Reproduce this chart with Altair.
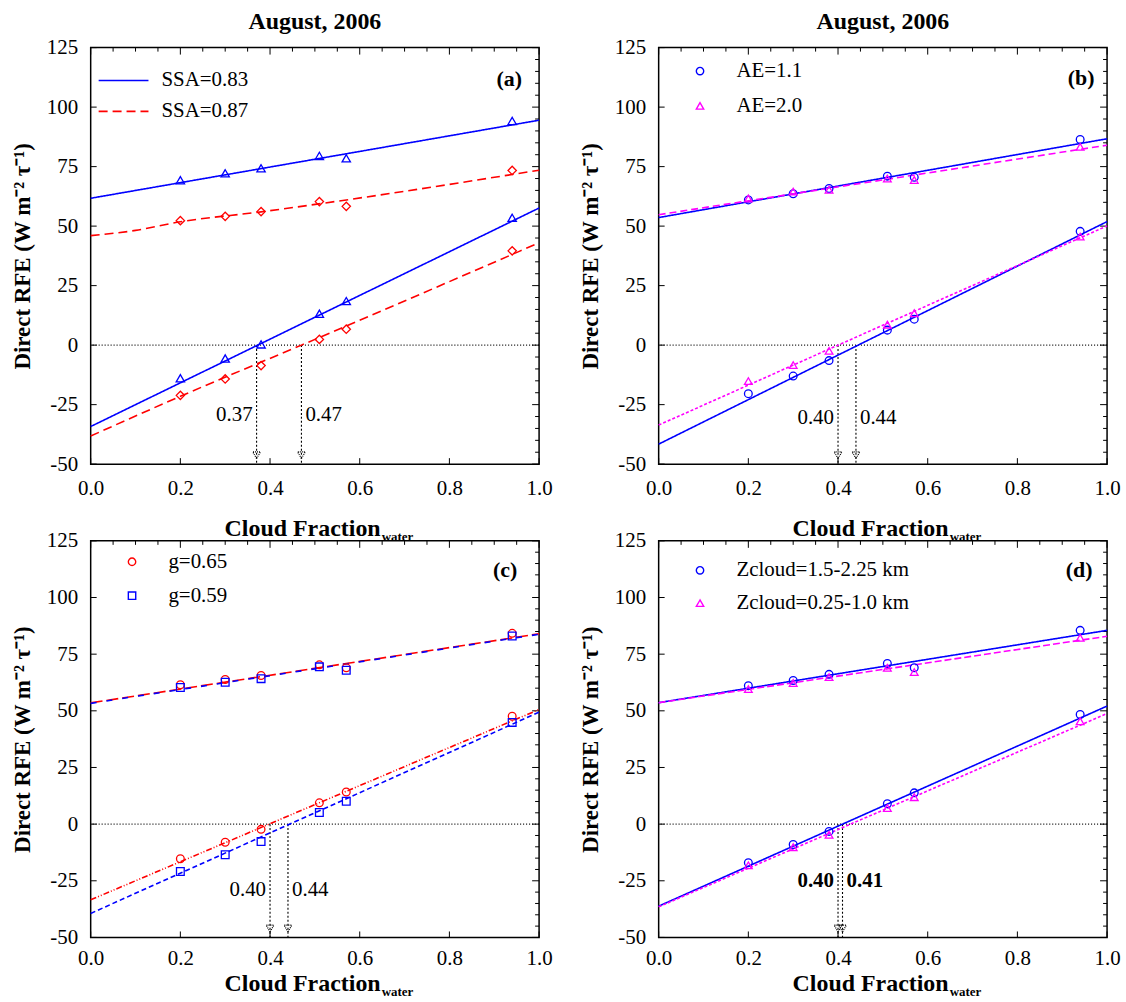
import altair as alt
import pandas as pd

# ---------------------------------------------------------------------------
# Direct radiative forcing efficiency vs. water cloud fraction, August 2006
# ---------------------------------------------------------------------------

CF = [0.2, 0.3, 0.38, 0.51, 0.57, 0.94]

# (a) single scattering albedo
A_SERIES = ["SSA=0.83", "SSA=0.87"]
A_83_UP = [69.3, 72.2, 74.3, 79.5, 78.5, 94.2]
A_83_LO = [-13.9, -5.6, 0.3, 13.2, 18.5, 53.5]
A_87_UP = [52.3, 54.1, 56.1, 60.3, 58.3, 73.4]
A_87_LO = [-21.1, -14.2, -8.6, 2.4, 6.7, 39.6]
A_FIT_83_UP = ([0.0, 1.0], [61.7, 94.5])
A_FIT_83_LO = ([0.0, 1.0], [-34.2, 57.6])
A_FIT_87_UP = ([0.0, 0.1, 0.2, 0.38, 0.57, 1.0], [46.0, 48.2, 51.8, 56.0, 61.0, 73.5])
A_FIT_87_LO = ([0.0, 0.2, 0.47, 1.0], [-38.2, -21.5, 0.0, 43.0])
A_ARROWS = [0.37, 0.47]

# (b) Angstrom exponent
B_SERIES = ["AE=1.1", "AE=2.0"]
B_11_UP = [61.0, 63.6, 65.8, 71.0, 70.5, 86.4]
B_11_LO = [-20.4, -13.0, -6.5, 6.3, 10.9, 47.8]
B_20_UP = [61.6, 64.5, 65.3, 70.0, 69.4, 83.3]
B_20_LO = [-15.1, -8.4, -2.4, 8.6, 13.4, 45.6]
B_FIT_11_UP = ([0.0, 1.0], [53.6, 86.7])
B_FIT_11_LO = ([0.0, 1.0], [-41.6, 51.9])
B_FIT_20_UP = ([0.0, 1.0], [54.8, 84.0])
B_FIT_20_LO = ([0.0, 0.4, 1.0], [-33.6, 0.0, 50.1])
B_ARROWS = [0.40, 0.44]

# (c) asymmetry parameter
C_SERIES = ["g=0.65", "g=0.59"]
C_65_UP = [61.5, 63.8, 65.6, 70.3, 69.0, 84.2]
C_65_LO = [-15.3, -8.0, -2.3, 9.4, 14.2, 47.6]
C_59_UP = [60.3, 62.6, 64.2, 69.4, 67.9, 83.0]
C_59_LO = [-20.9, -13.5, -7.7, 5.1, 10.1, 44.9]
C_FIT_65_UP = ([0.0, 1.0], [53.5, 84.0])
C_FIT_65_LO = ([0.0, 1.0], [-33.4, 50.6])
C_FIT_59_UP = ([0.0, 1.0], [53.3, 83.8])
C_FIT_59_LO = ([0.0, 1.0], [-39.4, 49.4])
C_ARROWS = [0.40, 0.44]

# (d) cloud layer height
D_SERIES = ["Zcloud=1.5-2.25 km", "Zcloud=0.25-1.0 km"]
D_HI_UP = [61.1, 63.4, 66.1, 70.9, 69.0, 85.5]
D_HI_LO = [-17.0, -9.0, -3.2, 9.0, 13.8, 48.4]
D_LO_UP = [59.6, 62.3, 64.9, 69.0, 67.1, 82.2]
D_LO_LO = [-18.2, -10.2, -4.7, 7.1, 11.9, 45.4]
D_FIT_HI_UP = ([0.0, 1.0], [53.6, 85.5])
D_FIT_HI_LO = ([0.0, 1.0], [-36.2, 52.1])
D_FIT_LO_UP = ([0.0, 1.0], [53.6, 82.9])
D_FIT_LO_LO = ([0.0, 1.0], [-36.5, 48.8])
D_ARROWS = [0.40, 0.41]

# axis tick positions
X_MAJOR = [0.0, 0.2, 0.4, 0.6, 0.8, 1.0]
X_MINOR = [0.05, 0.1, 0.15, 0.25, 0.3, 0.35, 0.45, 0.5, 0.55, 0.65, 0.7,
           0.75, 0.85, 0.9, 0.95]
Y_MAJOR = [-50, -25, 0, 25, 50, 75, 100, 125]
Y_MINOR = [-45, -40, -35, -30, -20, -15, -10, -5, 5, 10, 15, 20, 30, 35, 40,
           45, 55, 60, 65, 70, 80, 85, 90, 95, 105, 110, 115, 120]

BLUE, RED, MAGENTA = "#0000ff", "#ff0000", "#ff00ff"
SOLID = [1, 0]
SERIF = "Liberation Serif"
W = 450
Y_TITLE = "Direct RFE (W m\u207b\u00b2 \u03c4\u207b\u00b9)"
# wide horizontal stroke used as the line-style legend symbol
LINE_SYMBOL = "M-2.5,0H2.5"

# pixel offsets below are given for a 418 px tall plot and scaled with it
PANELS = [
    dict(letter="(a)", title="August, 2006", H=418, xt_y=65, lab_pad=13, series=A_SERIES,
         colors=[BLUE, RED], shapes=["triangle-up", "diamond"],
         points=[(0, A_83_UP), (0, A_83_LO), (1, A_87_UP), (1, A_87_LO)],
         fits=[(0, "up", A_FIT_83_UP, SOLID), (0, "lo", A_FIT_83_LO, SOLID),
               (1, "up", A_FIT_87_UP, [9, 5]), (1, "lo", A_FIT_87_LO, [9, 5])],
         legend="line", leg_xy=(22, 22), leg_gap=10, leg_off=27,
         arrows=A_ARROWS, bold=False, letter_xy=(420, 32), label_y=369),
    dict(letter="(b)", title="August, 2006", H=418, xt_y=65, lab_pad=13, series=B_SERIES,
         colors=[BLUE, MAGENTA], shapes=["circle", "triangle-up"],
         points=[(0, B_11_UP), (0, B_11_LO), (1, B_20_UP), (1, B_20_LO)],
         fits=[(0, "up", B_FIT_11_UP, SOLID), (0, "lo", B_FIT_11_LO, SOLID),
               (1, "up", B_FIT_20_UP, [7, 4]), (1, "lo", B_FIT_20_LO, [3, 2])],
         legend="symbol", leg_xy=(31, 13), leg_gap=13, leg_off=26,
         arrows=B_ARROWS, bold=False, letter_xy=(424, 31), label_y=372),
    dict(letter="(c)", title=None, H=398, xt_y=47, lab_pad=10, series=C_SERIES,
         colors=[RED, BLUE], shapes=["circle", "square"],
         points=[(0, C_65_UP), (0, C_65_LO), (1, C_59_UP), (1, C_59_LO)],
         fits=[(0, "up", C_FIT_65_UP, [12, 4]), (0, "lo", C_FIT_65_LO, [6, 2, 1, 2, 1, 2]),
               (1, "up", C_FIT_59_UP, [6, 10]), (1, "lo", C_FIT_59_LO, [5, 3])],
         legend="symbol", leg_xy=(31, 11), leg_gap=12, leg_off=26,
         arrows=C_ARROWS, bold=False, letter_xy=(416, 31), label_y=368),
    dict(letter="(d)", title=None, H=398, xt_y=47, lab_pad=10, series=D_SERIES,
         colors=[BLUE, MAGENTA], shapes=["circle", "triangle-up"],
         points=[(0, D_HI_UP), (0, D_HI_LO), (1, D_LO_UP), (1, D_LO_LO)],
         fits=[(0, "up", D_FIT_HI_UP, SOLID), (0, "lo", D_FIT_HI_LO, SOLID),
               (1, "up", D_FIT_LO_UP, [7, 3]), (1, "lo", D_FIT_LO_LO, [3, 2])],
         legend="symbol", leg_xy=(31, 20), leg_gap=11, leg_off=26,
         arrows=D_ARROWS, bold=True, letter_xy=(422, 31), label_y=359),
]


def make_panel(p):
    H = p["H"]
    k = H / 418.0
    xs = alt.Scale(domain=[0, 1], nice=False, zero=False)
    ys = alt.Scale(domain=[-50, 125], nice=False, zero=False)

    x_axis = alt.Axis(values=X_MAJOR, format=".1f", ticks=False, domain=False,
                      grid=False, labelPadding=p["lab_pad"], title=None, labelFlush=False)
    y_axis = alt.Axis(values=Y_MAJOR, labelExpr="'' + datum.value", ticks=False,
                      domain=False, grid=False, labelPadding=13, title=Y_TITLE,
                      titlePadding=12)

    def X(field):
        return alt.X(field, scale=xs, axis=x_axis)

    def Y(field):
        return alt.Y(field, scale=ys, axis=y_axis)

    # point and fitted-curve tables
    prow = []
    for si, vals in p["points"]:
        for c, v in zip(CF, vals):
            prow.append({"series": p["series"][si], "cf": c, "rfe": v})
    pts = pd.DataFrame(prow)

    frow = []
    for si, br, (fx, fy), dash in p["fits"]:
        for j, (c, v) in enumerate(zip(fx, fy)):
            frow.append({"series": p["series"][si], "branch": f"{si}{br}",
                         "cf": c, "rfe": v, "k": j})
    fits = pd.DataFrame(frow)

    data_layers = []
    if p["legend"] == "line":
        leg = alt.Legend(orient="none", legendX=p["leg_xy"][0], legendY=p["leg_xy"][1] * k,
                         title=None, symbolType=LINE_SYMBOL, symbolSize=400,
                         symbolStrokeWidth=1.6, labelFont=SERIF, labelFontSize=21,
                         labelColor="black", labelOffset=p["leg_off"],
                         rowPadding=p["leg_gap"], padding=0, labelLimit=400)
        data_layers.append(
            alt.Chart(fits).mark_line(strokeWidth=1.6, interpolate="monotone").encode(
                x=X("cf:Q"), y=Y("rfe:Q"),
                color=alt.Color("series:N", scale=alt.Scale(domain=p["series"], range=p["colors"]),
                                legend=leg),
                strokeDash=alt.StrokeDash("series:N", scale=alt.Scale(
                    domain=p["series"], range=[SOLID, [9, 5]]), legend=leg),
                detail="branch:N", order="k:Q"))
        for si, name in enumerate(p["series"]):
            data_layers.append(
                alt.Chart(pts[pts.series == name]).mark_point(
                    filled=False, size=70, strokeWidth=1.3, opacity=1,
                    color=p["colors"][si], shape=p["shapes"][si]).encode(
                    x=X("cf:Q"), y=Y("rfe:Q")))
    else:
        leg = alt.Legend(orient="none", legendX=p["leg_xy"][0], legendY=p["leg_xy"][1] * k,
                         title=None, symbolSize=55, symbolStrokeWidth=1.4,
                         labelFont=SERIF, labelFontSize=21, labelColor="black",
                         labelOffset=p["leg_off"], rowPadding=p["leg_gap"],
                         padding=0, labelLimit=400)
        for si, br, _, dash in p["fits"]:
            sub = fits[fits.branch == f"{si}{br}"]
            data_layers.append(
                alt.Chart(sub).mark_line(strokeWidth=1.6, color=p["colors"][si],
                                         strokeDash=dash).encode(
                    x=X("cf:Q"), y=Y("rfe:Q"), order="k:Q"))
        data_layers.append(
            alt.Chart(pts).mark_point(filled=False, size=60, strokeWidth=1.3, opacity=1).encode(
                x=X("cf:Q"), y=Y("rfe:Q"),
                color=alt.Color("series:N", scale=alt.Scale(domain=p["series"], range=p["colors"]),
                                legend=leg),
                shape=alt.Shape("series:N", scale=alt.Scale(domain=p["series"], range=p["shapes"]),
                                legend=leg)))

    zero = alt.Chart(pd.DataFrame({"rfe": [0]})).mark_rule(
        color="black", strokeDash=[1, 2], strokeWidth=1.2).encode(y=Y("rfe:Q"))

    # inward tick marks on all four sides
    def yticks(vals, x0, x1):
        return alt.Chart(pd.DataFrame({"rfe": vals})).mark_rule(color="black", strokeWidth=1).encode(
            y=Y("rfe:Q"), x=alt.value(x0), x2=alt.value(x1))

    def xticks(vals, y0, y1):
        return alt.Chart(pd.DataFrame({"cf": vals})).mark_rule(color="black", strokeWidth=1).encode(
            x=X("cf:Q"), y=alt.value(y0), y2=alt.value(y1))

    ticks = [
        yticks(Y_MAJOR, 0, 6), yticks(Y_MAJOR, W, W - 7), yticks(Y_MINOR, W, W - 4),
        xticks(X_MAJOR, H, H - 6), xticks(X_MAJOR, 0, 7), xticks(X_MINOR, 0, 4),
    ]

    # crossing-point arrows with their labels
    arr = pd.DataFrame({"cf": p["arrows"], "label": [f"{a:.2f}" for a in p["arrows"]]})
    arrow_line = alt.Chart(arr).mark_rule(color="black", strokeDash=[2, 2], strokeWidth=1.1).encode(
        x=X("cf:Q"), y=alt.YDatum(0, scale=ys, axis=y_axis), y2=alt.value(H))
    arrow_head = alt.Chart(arr).mark_point(
        shape="triangle-down", filled=False, color="black", size=60,
        strokeDash=[1, 1], strokeWidth=1.2, opacity=1).encode(
        x=X("cf:Q"), y=alt.value(H - 9))
    weight = "bold" if p["bold"] else "normal"
    lab_left = alt.Chart(arr.iloc[[0]]).mark_text(
        align="right", baseline="middle", dx=-4, font=SERIF, fontSize=21,
        fontWeight=weight, color="black").encode(
        x=X("cf:Q"), y=alt.value(p["label_y"] * k), text="label:N")
    lab_right = alt.Chart(arr.iloc[[1]]).mark_text(
        align="left", baseline="middle", dx=4, font=SERIF, fontSize=21,
        fontWeight=weight, color="black").encode(
        x=X("cf:Q"), y=alt.value(p["label_y"] * k), text="label:N")

    letter = alt.Chart(pd.DataFrame({"t": [p["letter"]]})).mark_text(
        font=SERIF, fontSize=22, fontWeight="bold", color="black",
        align="center", baseline="middle").encode(
        text="t:N", x=alt.value(p["letter_xy"][0]), y=alt.value(p["letter_xy"][1] * k))

    # x-axis title with the "water" subscript
    xt_main = alt.Chart(pd.DataFrame({"t": ["Cloud Fraction"]})).mark_text(
        font=SERIF, fontSize=24, fontWeight="bold", color="black",
        align="right", baseline="middle").encode(
        text="t:N", x=alt.value(291), y=alt.value(H + p["xt_y"]))
    xt_sub = alt.Chart(pd.DataFrame({"t": ["water"]})).mark_text(
        font=SERIF, fontSize=13, fontWeight="bold", color="black",
        align="left", baseline="middle").encode(
        text="t:N", x=alt.value(292), y=alt.value(H + p["xt_y"] + 8))

    layers = [zero] + ticks + [arrow_line, arrow_head] + data_layers + [
        lab_left, lab_right, letter, xt_main, xt_sub]
    chart = alt.layer(*layers).properties(width=W, height=H)
    if p["title"]:
        chart = chart.properties(title=alt.TitleParams(
            p["title"], font=SERIF, fontSize=24, fontWeight="bold", color="black",
            offset=3))
    return chart


panels = [make_panel(p) for p in PANELS]

chart = alt.concat(
    *panels, columns=2, spacing={"row": 77, "column": 120}, bounds="flush"
).resolve_scale(
    x="independent", y="independent", color="independent",
    shape="independent", strokeDash="independent"
).resolve_legend(
    color="independent", shape="independent", strokeDash="independent"
).properties(
    padding={"left": 10, "top": 7, "right": 5, "bottom": 0},
    background="white",
).configure_view(
    stroke="black", strokeWidth=1.5
).configure_axis(
    labelFont=SERIF, labelFontSize=21, labelColor="black",
    titleFont=SERIF, titleFontSize=23, titleFontWeight="bold", titleColor="black",
)

chart.save("out.html", embed_options={"renderer": "svg", "actions": False})
